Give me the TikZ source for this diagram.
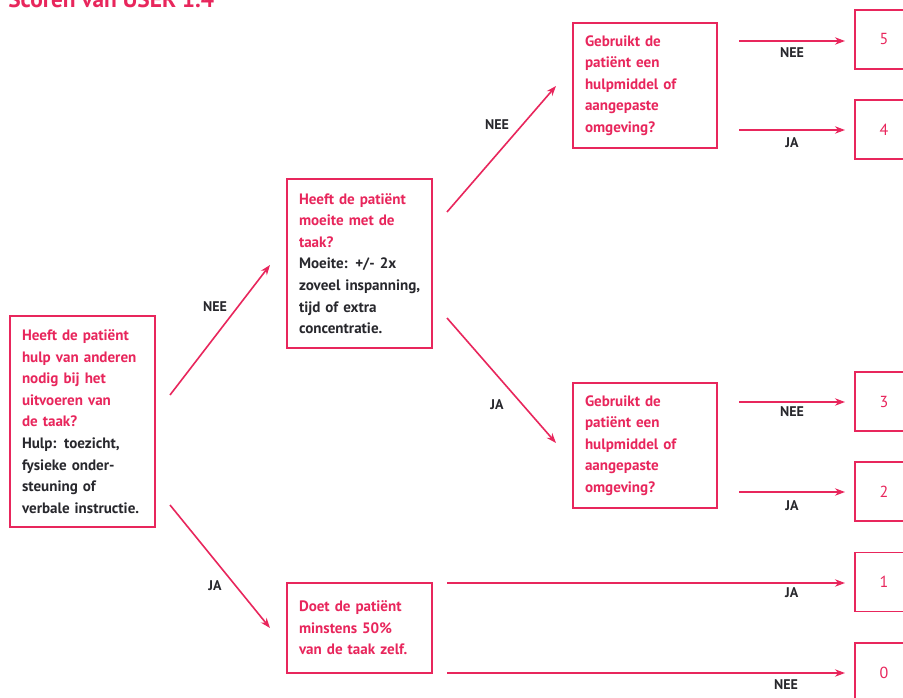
\documentclass[tikz,border=0pt]{standalone}
\usepackage{fontspec}
\setmainfont{PT Sans}
\usetikzlibrary{arrows.meta}
\definecolor{pinkred}{RGB}{232,38,92}
\definecolor{darktext}{RGB}{40,40,45}
\tikzset{
  qbox/.style={draw=pinkred, line width=1.2pt, rectangle, inner xsep=9pt, inner ysep=0pt,
    align=left, font=\bfseries\fontsize{11.3}{16.2}\selectfont, text=pinkred},
  rbox/.style={draw=pinkred, line width=1.2pt, rectangle, minimum width=43.5pt, minimum height=44.25pt,
    font=\fontsize{12}{14}\selectfont, text=pinkred},
  arr/.style={draw=pinkred, line width=1.2pt, -{Stealth[length=7.5pt,width=5.5pt]}},
  lbl/.style={font=\bfseries\fontsize{10.5}{12}\selectfont, text=darktext, inner sep=0pt}
}
\newcommand{\pln}[1]{\mbox{#1}}
\newcommand{\dtxt}[1]{\mbox{\textcolor{darktext}{#1}}}
\begin{document}
\begin{tikzpicture}[x=0.75pt,y=-0.75pt]
\useasboundingbox (0,0) rectangle (903,698);
\fill[white] (0,0) rectangle (903,698);
% title (partly cut off at top)
\node[anchor=base west, inner sep=0pt, text=pinkred, font=\bfseries\fontsize{17.5}{20}\selectfont] (title) at (8,8) {Scoren van USER 1.4};
% question boxes
\node[qbox, text width=90.75pt, minimum height=158.25pt] (A) at (82.5,421.5)
  {\pln{Heeft de patiënt}\\\pln{hulp van anderen}\\\pln{nodig bij het}\\\pln{uitvoeren van}\\\pln{de taak?}\\
   \dtxt{Hulp: toezicht,}\\\dtxt{fysieke onder-}\\\dtxt{steuning of}\\\dtxt{verbale instructie.}};
\node[qbox, text width=90.75pt, minimum height=126.75pt] (B) at (359.5,263.5)
  {\pln{Heeft de patiënt}\\\pln{moeite met de}\\\pln{taak?}\\
   \dtxt{Moeite: +/- 2x}\\\dtxt{zoveel inspanning,}\\\dtxt{tijd of extra}\\\dtxt{concentratie.}};
\node[qbox, text width=90pt, minimum height=93.75pt] (C) at (645,85.5)
  {\pln{Gebruikt de}\\\pln{patiënt een}\\\pln{hulpmiddel of}\\\pln{aangepaste}\\\pln{omgeving?}};
\node[qbox, text width=90pt, minimum height=93.75pt] (D) at (645,445.5)
  {\pln{Gebruikt de}\\\pln{patiënt een}\\\pln{hulpmiddel of}\\\pln{aangepaste}\\\pln{omgeving?}};
\node[qbox, text width=90.75pt, minimum height=67.5pt] (E) at (359.5,628)
  {\pln{Doet de patiënt}\\\pln{minstens 50\%}\\\pln{van de taak zelf.}};
% result boxes
\node[rbox] (r5) at (884,39.5) {5};
\node[rbox] (r4) at (884,129.5) {4};
\node[rbox] (r3) at (884,401.5) {3};
\node[rbox] (r2) at (884,491.5) {2};
\node[rbox] (r1) at (884,582) {1};
\node[rbox] (r0) at (884,672.5) {0};
% arrow end points
\coordinate (ab1) at (170,395); \coordinate (ab2) at (270,265);
\coordinate (ae1) at (170,505); \coordinate (ae2) at (270,628);
\coordinate (bc1) at (447,212); \coordinate (bc2) at (556,86);
\coordinate (bd1) at (447,318); \coordinate (bd2) at (556,443);
\coordinate (c51) at (739,41);  \coordinate (c52) at (845,41);
\coordinate (c41) at (739,130); \coordinate (c42) at (845,130);
\coordinate (d31) at (739,402); \coordinate (d32) at (845,402);
\coordinate (d21) at (739,492); \coordinate (d22) at (845,492);
\coordinate (e11) at (447,583); \coordinate (e12) at (845,583);
\coordinate (e01) at (447,673); \coordinate (e02) at (845,673);
% arrows
\draw[arr] (ab1) -- node[lbl, xshift=-3.75pt, yshift=17.25pt] {NEE} (ab2);
\draw[arr] (ae1) -- node[lbl, xshift=-3.75pt, yshift=-14.6pt] {JA} (ae2);
\draw[arr] (bc1) -- node[lbl, xshift=-3.4pt, yshift=18pt] {NEE} (bc2);
\draw[arr] (bd1) -- node[lbl, xshift=-3.4pt, yshift=-18.4pt] {JA} (bd2);
\draw[arr] (c51) -- node[lbl, yshift=-9pt] {NEE} (c52);
\draw[arr] (c41) -- node[lbl, yshift=-9.75pt] {JA} (c42);
\draw[arr] (d31) -- node[lbl, yshift=-7.5pt] {NEE} (d32);
\draw[arr] (d21) -- node[lbl, yshift=-10.5pt] {JA} (d22);
\draw[arr] (e11) -- node[lbl, pos=0.866, yshift=-7.5pt] {JA} (e12);
\draw[arr] (e01) -- node[lbl, pos=0.852, yshift=-9pt] {NEE} (e02);
\end{tikzpicture}
\end{document}
